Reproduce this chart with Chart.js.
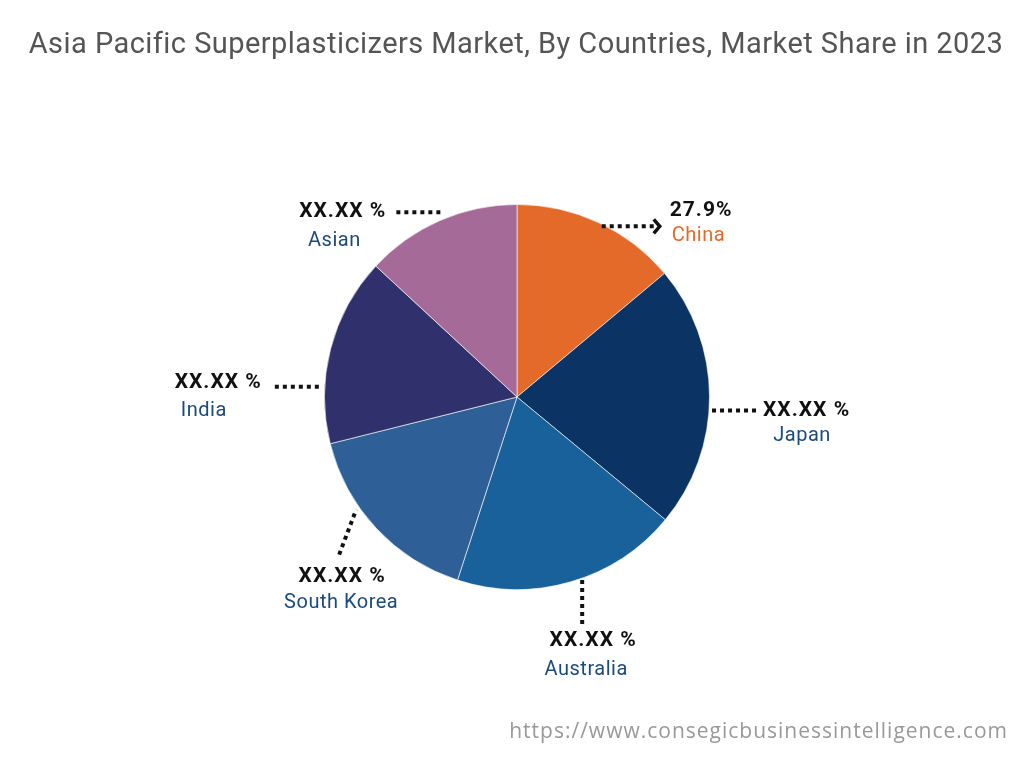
<!DOCTYPE html>
<html>
<head>
<meta charset="utf-8">
<script src="https://cdn.jsdelivr.net/npm/chart.js@4.4.1/dist/chart.umd.min.js"></script>
<style>
  html, body { margin: 0; padding: 0; background: #fff; }
  #wrap { position: relative; width: 1024px; height: 768px; }
  #chart { position: absolute; left: 0; top: 0; }
  #title { position: absolute; left: 0; width: 1032px; top: 26px; text-align: center;
    font-family: Roboto, sans-serif; font-size: 29px; color: #555; letter-spacing: 0.45px; }
  #url { position: absolute; right: 16px; top: 716px; font-family: "Open Sans", sans-serif;
    font-size: 21px; color: #999; letter-spacing: 1px; }
</style>
</head>
<body>
<div id="wrap">
  <canvas id="chart" width="1024" height="768"></canvas>
  <div id="title">Asia Pacific Superplasticizers Market, By Countries, Market Share in 2023</div>
  <div id="url">https://www.consegicbusinessintelligence.com</div>
</div>
<script>
// data
const countries = ['China', 'Japan', 'Australia', 'South Korea', 'India', 'Asian'];
const shares = [13.9, 22.1, 19.0, 16.1, 15.8, 13.1];
const shareLabels = ['27.9%', 'XX.XX %', 'XX.XX %', 'XX.XX %', 'XX.XX %', 'XX.XX %'];
const colors = ['#E36A28', '#0B3464', '#19619B', '#2E5F97', '#30316C', '#A56A97'];
const nameColors = ['#E36A28', '#1B4A7E', '#1B4A7E', '#1B4A7E', '#1B4A7E', '#1B4A7E'];

// leader line layout: where it leaves the pie (deg clockwise from top, radius factor),
// its vector, and where the two texts sit relative to the far end
const leaders = [
  { ang: 26.4, rf: 0.99, dx: 58, dy: 0, arrow: true,
    v: [10, -16, 'left'], n: [12, 10, 'left'] },
  { ang: 94, rf: 1.0, dx: 47, dy: 0,
    v: [7, 0, 'left'], n: [46, 26, 'center'] },
  { ang: 160, rf: 0.99, dx: 0, dy: 48,
    v: [11, 17, 'center'], n: [4, 46, 'center'] },
  { ang: 235, rf: 1.02, dx: -17, dy: 45,
    v: [3, 22, 'center'], n: [2, 48, 'center'] },
  { ang: 273, rf: 1.01, dx: -48, dy: 0,
    v: [-13, -4, 'right'], n: [-71, 24, 'center'] },
  { ang: 338, rf: 1.035, dx: -46, dy: 0,
    v: [-10, -1, 'right'], n: [-62, 29, 'center'] }
];

const labelPlugin = {
  id: 'leaderLabels',
  afterDraw(chart) {
    const ctx = chart.ctx;
    const arcs = chart.getDatasetMeta(0).data;
    arcs.forEach((arc, i) => {
      const L = leaders[i];
      const a = (L.ang - 90) * Math.PI / 180;
      const r = arc.outerRadius * L.rf;
      const x0 = arc.x + Math.cos(a) * r;
      const y0 = arc.y + Math.sin(a) * r;
      const x1 = x0 + L.dx, y1 = y0 + L.dy;
      ctx.save();
      ctx.strokeStyle = '#111';
      ctx.lineWidth = 4;
      ctx.setLineDash([4, 4]);
      ctx.lineCap = 'butt';
      ctx.beginPath();
      if (L.arrow) {
        ctx.moveTo(x0, y0); ctx.lineTo(x1 - 4, y1);
      } else {
        ctx.moveTo(x1, y1); ctx.lineTo(x0, y0);
      }
      ctx.stroke();
      if (L.arrow) {
        ctx.setLineDash([]);
        ctx.lineWidth = 3.5;
        ctx.lineJoin = 'miter';
        ctx.beginPath();
        ctx.moveTo(x1 - 6, y1 - 7);
        ctx.lineTo(x1, y1);
        ctx.lineTo(x1 - 6, y1 + 7);
        ctx.stroke();
      }
      ctx.textBaseline = 'middle';
      ctx.fillStyle = '#111';
      ctx.font = 'bold 21px Roboto, sans-serif';
      ctx.letterSpacing = '1px';
      ctx.textAlign = L.v[2];
      ctx.fillText(shareLabels[i], x1 + L.v[0], y1 + L.v[1]);
      ctx.fillStyle = nameColors[i];
      ctx.font = '20px Roboto, sans-serif';
      ctx.letterSpacing = '0.5px';
      ctx.textAlign = L.n[2];
      ctx.fillText(countries[i], x1 + L.n[0], y1 + L.n[1]);
      ctx.restore();
    });
  }
};

new Chart(document.getElementById('chart'), {
  type: 'pie',
  data: {
    labels: countries,
    datasets: [{
      data: shares,
      backgroundColor: colors,
      borderColor: 'rgba(255,255,255,0.6)',
      borderWidth: 1
    }]
  },
  options: {
    responsive: false,
    animation: false,
    layout: { padding: { top: 204, bottom: 178, left: 324, right: 314 } },
    plugins: {
      legend: { display: false },
      tooltip: { enabled: false }
    }
  },
  plugins: [labelPlugin]
});
</script>
</body>
</html>
